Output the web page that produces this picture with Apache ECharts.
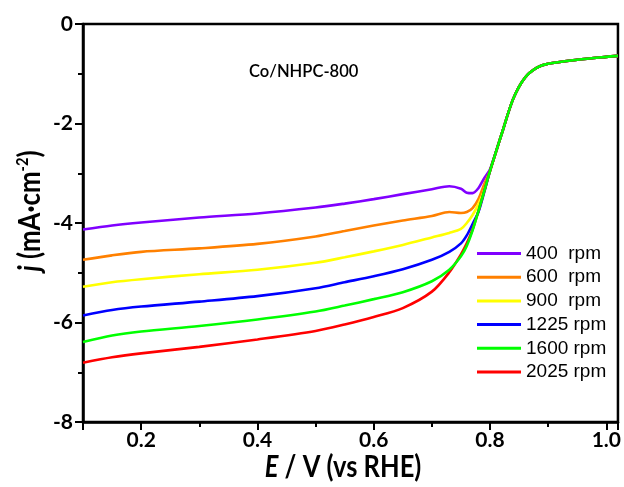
<!DOCTYPE html>
<html>
<head>
<meta charset="utf-8">
<script src="https://cdn.jsdelivr.net/npm/echarts@6/dist/echarts.min.js"></script>
<style>
    html, body { margin: 0; padding: 0; background: #fff; }
    #chart { width: 624px; height: 487px; }
</style>
</head>
<body>
<div id="chart"></div>
<script>
// potential (V vs RHE)
var potential = [0.10, 0.15, 0.20, 0.30, 0.40, 0.50, 0.55, 0.60, 0.65, 0.70, 0.73, 0.75, 0.76, 0.77, 0.78, 0.79, 0.80, 0.82, 0.84, 0.86, 0.88, 0.90, 0.95, 1.00, 1.02];

// current density j (mA cm-2) per rotation rate
var j400  = [-4.13, -4.05, -3.99, -3.89, -3.81, -3.69, -3.61, -3.52, -3.42, -3.32, -3.26, -3.31, -3.39, -3.40, -3.30, -3.10, -2.92, -2.21, -1.50, -1.08, -0.88, -0.80, -0.72, -0.66, -0.64];
var j600  = [-4.74, -4.65, -4.58, -4.51, -4.42, -4.27, -4.16, -4.05, -3.95, -3.86, -3.78, -3.80, -3.78, -3.70, -3.52, -3.22, -2.95, -2.21, -1.50, -1.08, -0.88, -0.80, -0.72, -0.66, -0.64];
var j900  = [-5.28, -5.19, -5.13, -5.03, -4.94, -4.80, -4.69, -4.57, -4.44, -4.29, -4.20, -4.12, -4.00, -3.84, -3.62, -3.34, -2.95, -2.21, -1.50, -1.08, -0.88, -0.80, -0.72, -0.66, -0.64];
var j1225 = [-5.86, -5.75, -5.68, -5.58, -5.47, -5.31, -5.19, -5.07, -4.93, -4.74, -4.58, -4.41, -4.25, -4.02, -3.78, -3.38, -2.95, -2.21, -1.50, -1.08, -0.88, -0.80, -0.72, -0.66, -0.64];
var j1600 = [-6.39, -6.26, -6.18, -6.07, -5.94, -5.78, -5.66, -5.53, -5.39, -5.17, -4.94, -4.67, -4.46, -4.15, -3.76, -3.36, -2.95, -2.21, -1.50, -1.08, -0.88, -0.80, -0.72, -0.66, -0.64];
var j2025 = [-6.81, -6.70, -6.62, -6.49, -6.34, -6.17, -6.04, -5.89, -5.71, -5.38, -4.99, -4.63, -4.41, -4.13, -3.76, -3.36, -2.95, -2.21, -1.50, -1.08, -0.88, -0.80, -0.72, -0.66, -0.64];

var seriesNames = ['400  rpm', '600  rpm', '900  rpm', '1225 rpm', '1600 rpm', '2025 rpm'];
var seriesColors = ['#8000ff', '#ff8000', '#ffff00', '#0000ff', '#00ff00', '#ff0000'];
var seriesValues = [j400, j600, j900, j1225, j1600, j2025];

var xTicks = [0.2, 0.4, 0.6, 0.8, 1.0];
var yTicks = [0, -2, -4, -6, -8];

function pairs(ys) {
    return potential.map(function (x, i) { return [x, ys[i]]; });
}

var chart = echarts.init(document.getElementById('chart'));

// 1600 drawn last so it sits on top where the curves merge
var drawOrder = [0, 1, 2, 3, 5, 4];
var series = drawOrder.map(function (k) {
    return {
        name: seriesNames[k],
        type: 'line',
        smooth: 0.3,
        symbol: 'none',
        color: seriesColors[k],
        lineStyle: { width: 2.6, color: seriesColors[k] },
        data: pairs(seriesValues[k])
    };
});

var option = {
    animation: false,
    backgroundColor: '#fff',
    grid: {
        left: 83, top: 24, right: 6, bottom: 65,
        show: true,
        borderColor: '#000',
        borderWidth: 2.5,
        backgroundColor: 'transparent'
    },
    legend: {
        data: seriesNames.map(function (n) { return { name: n, icon: 'rect' }; }),
        orient: 'vertical',
        left: 477,
        top: 244,
        itemWidth: 44,
        itemHeight: 3,
        itemGap: 4.7,
        padding: 0,
        textStyle: {
            fontFamily: 'Liberation Sans',
            fontSize: 19,
            color: '#000',
            lineHeight: 18
        }
    },
    xAxis: {
        type: 'value',
        min: 0.1,
        max: 1.02,
        splitNumber: 5,
        axisLine: { onZero: false, lineStyle: { color: '#000', width: 2.5 } },
        axisTick: { show: true, length: 8, lineStyle: { color: '#000', width: 2 } },
        minorTick: { show: true, splitNumber: 2, length: 5, lineStyle: { color: '#000', width: 2 } },
        splitLine: { show: false },
        axisLabel: {
            showMinLabel: false,
            showMaxLabel: false,
            margin: 8,
            color: '#000',
            fontFamily: 'Lato',
            fontWeight: 'bold',
            fontSize: 21,
            formatter: function (v) {
                for (var i = 0; i < xTicks.length; i++) {
                    if (Math.abs(v - xTicks[i]) < 1e-6) return xTicks[i].toFixed(1);
                }
                return '';
            }
        }
    },
    yAxis: {
        type: 'value',
        min: -8,
        max: 0,
        interval: 2,
        axisLine: { onZero: false, lineStyle: { color: '#000', width: 2.5 } },
        axisTick: { show: true, length: 8, lineStyle: { color: '#000', width: 2 } },
        minorTick: { show: true, splitNumber: 2, length: 5, lineStyle: { color: '#000', width: 2 } },
        splitLine: { show: false },
        axisLabel: {
            margin: 10,
            color: '#000',
            fontFamily: 'Lato',
            fontWeight: 'bold',
            fontSize: 21,
            formatter: function (v) {
                return yTicks.indexOf(v) >= 0 ? String(v) : '';
            }
        }
    },
    graphic: [
        {
            type: 'text',
            left: 249,
            top: 62,
            scaleX: 0.92,
            style: {
                text: 'Co/NHPC-800',
                fontFamily: 'Lato',
                fontWeight: 600,
                fontSize: 18,
                fill: '#000'
            }
        },
        {
            type: 'text',
            x: 343,
            y: 467,
            scaleX: 0.85,
            style: {
                text: '{i|E} / V (vs RHE)',
                align: 'center',
                verticalAlign: 'middle',
                fontFamily: 'Lato',
                fontWeight: 'bold',
                fontSize: 30,
                fill: '#000',
                rich: {
                    i: { fontFamily: 'Lato', fontWeight: 'bold', fontStyle: 'italic', fontSize: 30, fill: '#000' }
                }
            }
        },
        {
            type: 'text',
            x: 30,
            y: 211,
            rotation: Math.PI / 2,
            scaleX: 0.86,
            style: {
                text: '{i|j} (mA·cm{sup|-2})',
                align: 'center',
                verticalAlign: 'middle',
                fontFamily: 'Lato',
                fontWeight: 'bold',
                fontSize: 30,
                fill: '#000',
                rich: {
                    i: { fontFamily: 'Lato', fontWeight: 'bold', fontStyle: 'italic', fontSize: 30, fill: '#000' },
                    sup: { fontFamily: 'Lato', fontWeight: 'bold', fontSize: 17, fill: '#000', verticalAlign: 'top', padding: [0, 0, 14, 0] }
                }
            }
        }
    ],
    series: series
};

chart.setOption(option);

window.addEventListener('resize', function () {
    chart.resize();
});
</script>
</body>
</html>
